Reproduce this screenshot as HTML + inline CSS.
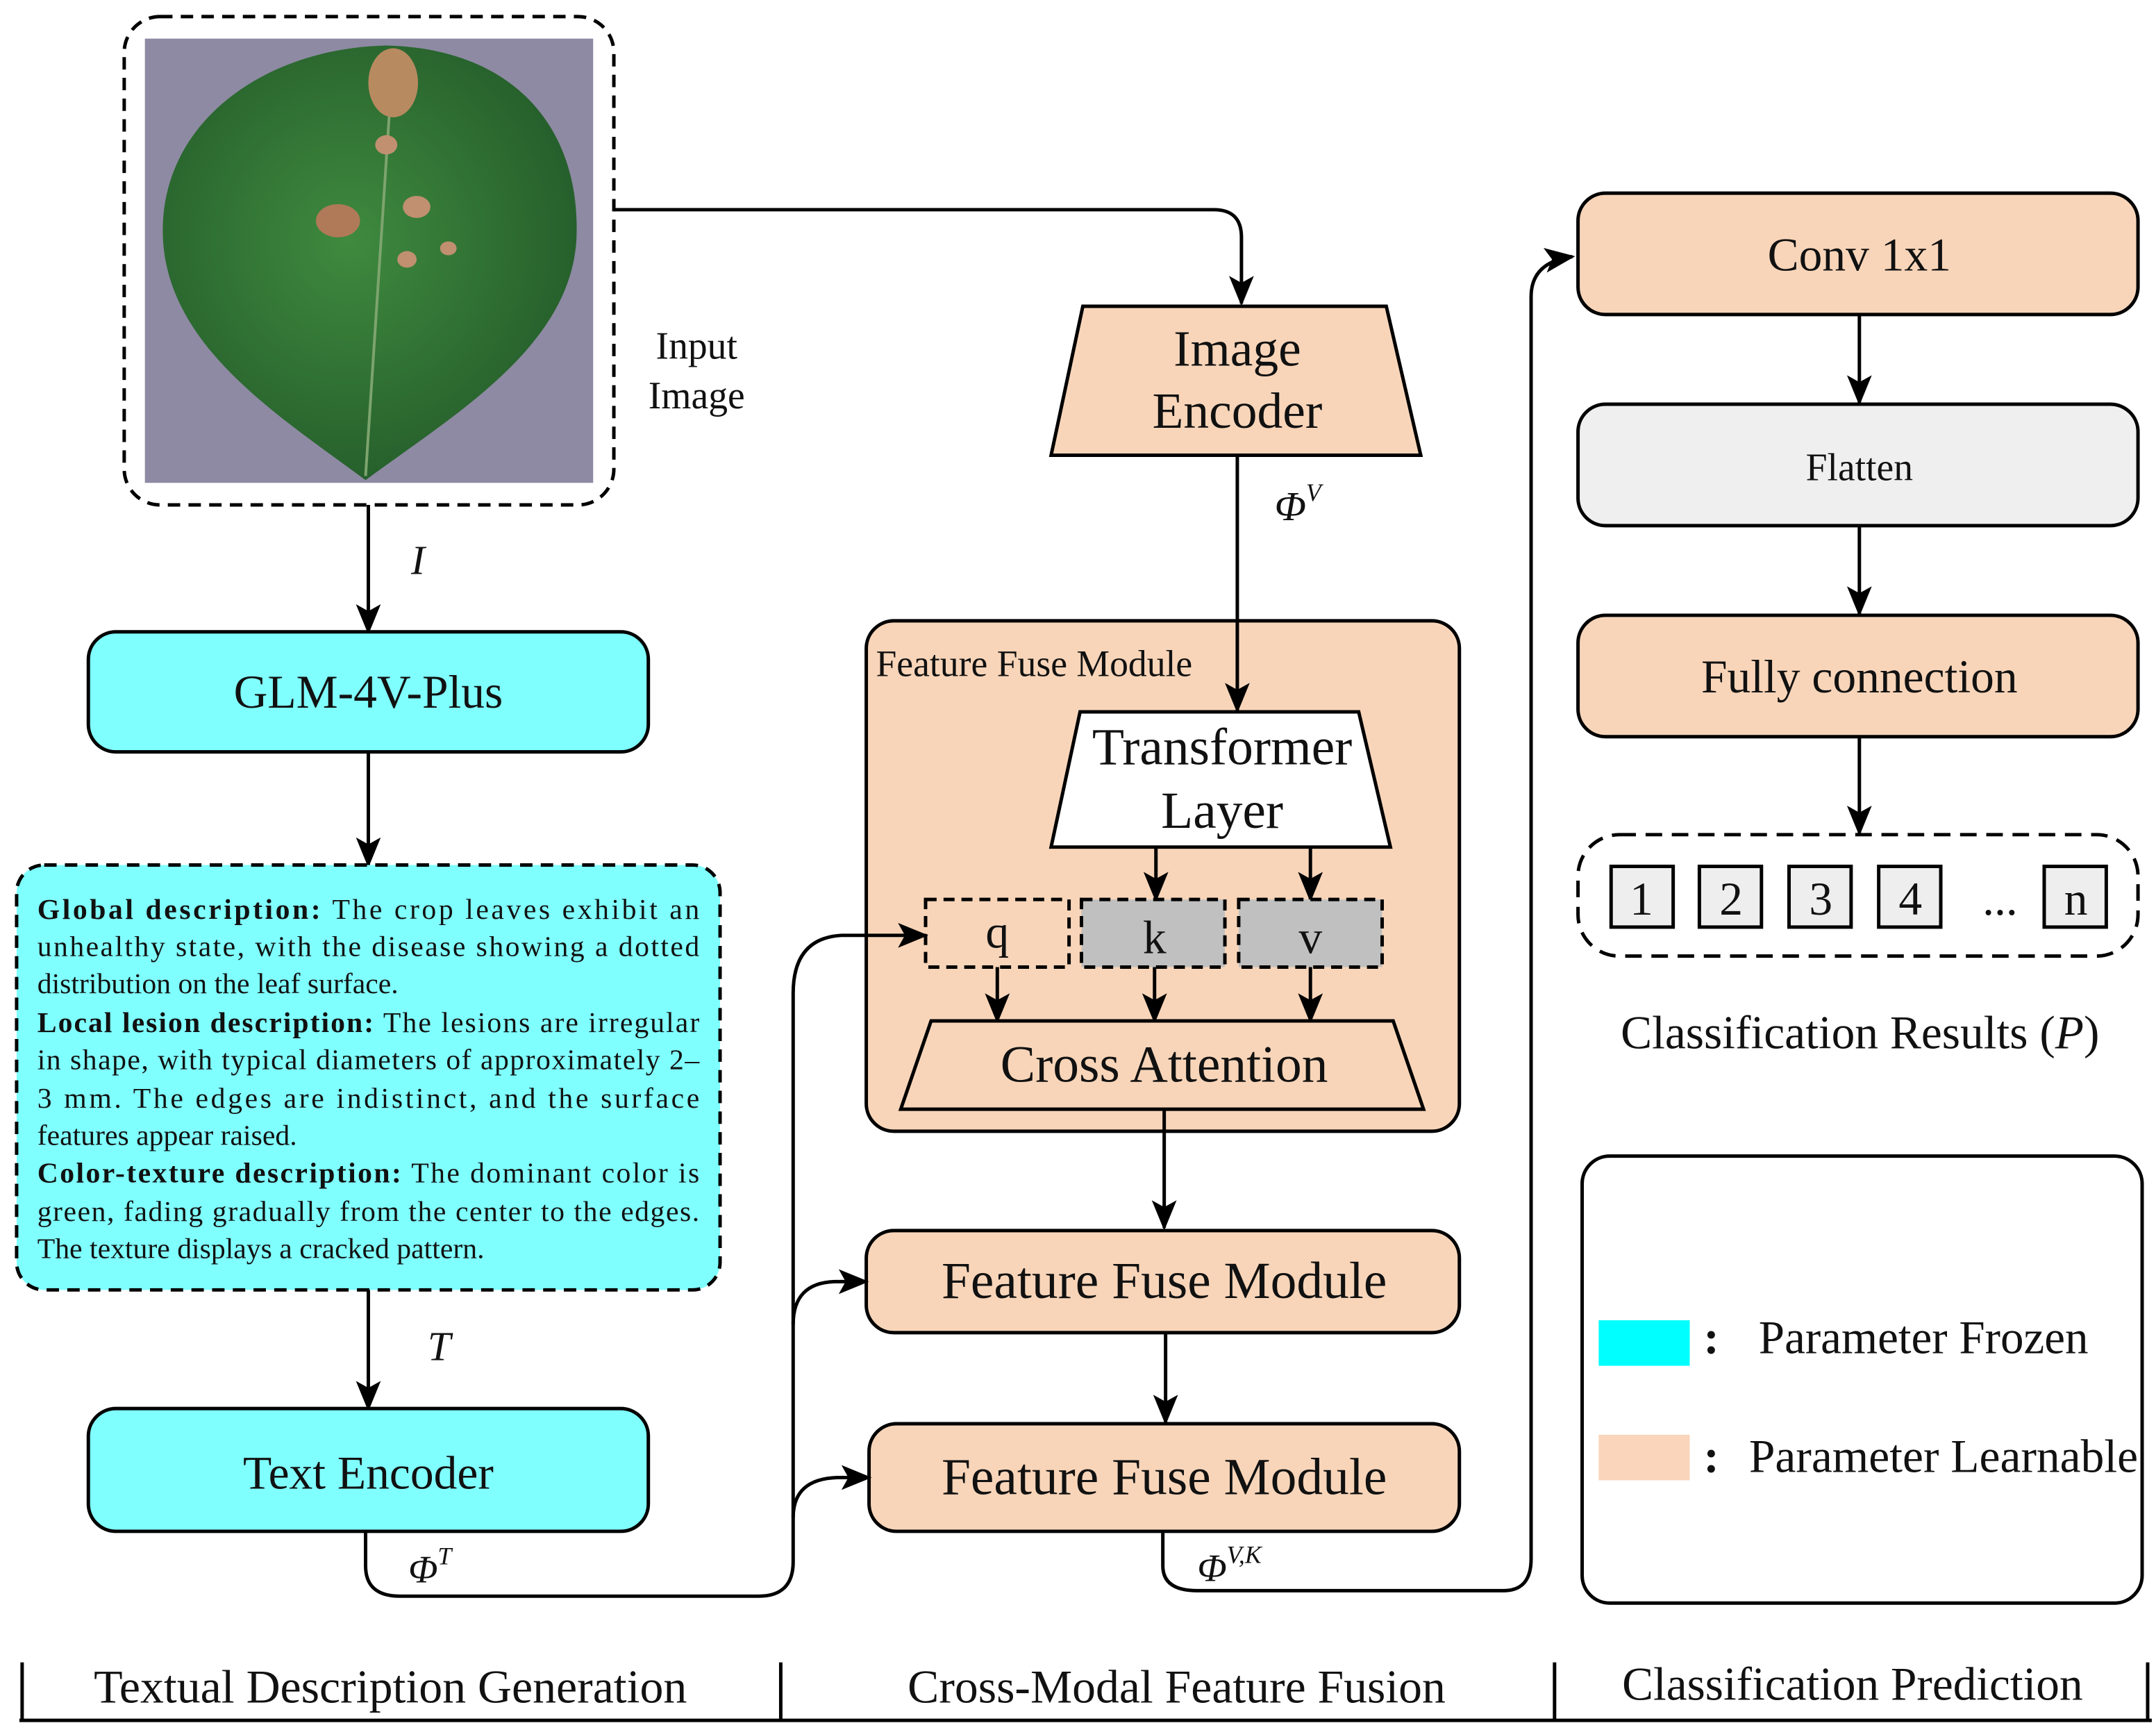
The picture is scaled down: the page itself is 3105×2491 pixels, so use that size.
<!DOCTYPE html>
<html><head><meta charset="utf-8"><style>
html,body{margin:0;padding:0;background:#fff}
svg{display:block}
text{font-family:"Liberation Serif",serif;fill:#111}
</style></head><body>
<svg width="3105" height="2491" viewBox="0 0 1563 1254" xmlns="http://www.w3.org/2000/svg">
<defs>
<marker id="b" markerWidth="22" markerHeight="22" refX="20" refY="11" orient="auto" markerUnits="userSpaceOnUse" viewBox="0 0 22 22">
<path d="M0,2 L22,11 L0,20 L5,11 Z" fill="#000"/></marker>
<radialGradient id="lg" cx="0.45" cy="0.45" r="0.6"><stop offset="0" stop-color="#3f8a3f"/><stop offset="1" stop-color="#245c2a"/></radialGradient>
</defs>
<g stroke="#000" stroke-width="2.5" fill="none">
<rect x="90" y="12" width="355" height="354" rx="26" stroke-dasharray="9,6"/>
<rect x="105" y="28" width="325" height="322" fill="#8e8aa3" stroke="none"/>
<path d="M265,348 C200,300 120,250 118,170 C116,90 190,35 280,33 C370,35 420,90 418,170 C416,250 330,300 265,348 Z" fill="url(#lg)" stroke="none"/>
<path d="M265,345 L285,40" stroke="#7da46e" stroke-width="2"/>
<ellipse cx="285" cy="60" rx="18" ry="25" fill="#b88a60" stroke="none"/>
<ellipse cx="245" cy="160" rx="16" ry="12" fill="#b07a58" stroke="none"/>
<ellipse cx="302" cy="150" rx="10" ry="8" fill="#c09070" stroke="none"/>
<ellipse cx="295" cy="188" rx="7" ry="6" fill="#c09070" stroke="none"/>
<ellipse cx="325" cy="180" rx="6" ry="5" fill="#c09070" stroke="none"/>
<ellipse cx="280" cy="105" rx="8" ry="7" fill="#c09070" stroke="none"/>
<path d="M445,152 L880,152 Q900,152 900,172 L900,220" marker-end="url(#b)"/>
<path d="M267,366 L267,458" marker-end="url(#b)"/>
<path d="M267,545 L267,627" marker-end="url(#b)"/>
<path d="M267,935 L267,1021" marker-end="url(#b)"/>
<rect x="64" y="458" width="406" height="87" rx="20" fill="#80ffff"/>
<rect x="12" y="627" width="510" height="308" rx="20" fill="#80ffff" stroke-dasharray="9,6"/>
<rect x="64" y="1021" width="406" height="89" rx="20" fill="#80ffff"/>
<path d="M785,222 L1005,222 L1030,330 L762,330 Z" fill="#f8d5b9"/>
<rect x="628" y="450" width="430" height="370" rx="20" fill="#f8d5b9"/>
<path d="M897,330 L897,515" marker-end="url(#b)"/>
<path d="M783,516 L985,516 L1008,614 L762,614 Z" fill="#fff"/>
<path d="M838,614 L838,652" marker-end="url(#b)"/>
<path d="M950,614 L950,652" marker-end="url(#b)"/>
<rect x="671" y="652" width="104" height="49" fill="#f8d5b9" stroke-dasharray="8,5"/>
<rect x="784" y="652" width="104" height="49" fill="#c0c0c0" stroke-dasharray="8,5"/>
<rect x="898" y="652" width="104" height="49" fill="#c0c0c0" stroke-dasharray="8,5"/>
<path d="M723,701 L723,740" marker-end="url(#b)"/>
<path d="M837,701 L837,740" marker-end="url(#b)"/>
<path d="M950,701 L950,740" marker-end="url(#b)"/>
<path d="M675,740 L1010,740 L1032,804 L653,804 Z" fill="#f8d5b9"/>
<path d="M844,804 L844,890" marker-end="url(#b)"/>
<rect x="628" y="892" width="430" height="74" rx="20" fill="#f8d5b9"/>
<path d="M845,966 L845,1031" marker-end="url(#b)"/>
<rect x="630" y="1032" width="428" height="78" rx="20" fill="#f8d5b9"/>
<path d="M265,1110 L265,1135 Q265,1157 290,1157 L550,1157 Q575,1157 575,1132 L575,720 Q575,680 610,678 L671,678" marker-end="url(#b)"/>
<path d="M575,960 Q575,930 605,929 L628,929" marker-end="url(#b)"/>
<path d="M575,1100 Q575,1072 607,1071 L630,1071" marker-end="url(#b)"/>
<path d="M843,1110 L843,1135 Q843,1153 868,1153 L1090,1153 Q1110,1153 1110,1130 L1110,215 Q1110,190 1140,186" marker-end="url(#b)"/>
<rect x="1144" y="140" width="406" height="88" rx="20" fill="#f8d5b9"/>
<path d="M1348,228 L1348,292" marker-end="url(#b)"/>
<rect x="1144" y="293" width="406" height="88" rx="20" fill="#efefef"/>
<path d="M1348,381 L1348,445" marker-end="url(#b)"/>
<rect x="1144" y="446" width="406" height="88" rx="20" fill="#f8d5b9"/>
<path d="M1348,534 L1348,604" marker-end="url(#b)"/>
<rect x="1144" y="605" width="406" height="88" rx="30" stroke-dasharray="12,7"/>
<rect x="1168" y="628" width="45" height="44" fill="#eee"/>
<rect x="1232" y="628" width="45" height="44" fill="#eee"/>
<rect x="1297" y="628" width="45" height="44" fill="#eee"/>
<rect x="1362" y="628" width="45" height="44" fill="#eee"/>
<rect x="1482" y="628" width="45" height="44" fill="#eee"/>
<rect x="1147" y="838" width="406" height="324" rx="20"/>
<rect x="1159" y="957" width="66" height="33" fill="#00ffff" stroke="none"/>
<rect x="1159" y="1040" width="66" height="33" fill="#fad5bb" stroke="none"/>
<path d="M14,1247 L1560,1247 M16,1205 L16,1247 M566,1205 L566,1247 M1127,1205 L1127,1247 M1557,1205 L1557,1247"/>
</g>
<g font-size="28">
<text x="505" y="260" text-anchor="middle">Input</text>
<text x="505" y="296" text-anchor="middle">Image</text>
</g>
<text x="298" y="416" font-size="30" font-style="italic">I</text>
<text x="310" y="986" font-size="30" font-style="italic">T</text>
<g font-size="34" text-anchor="middle">
<text x="897" y="265" font-size="37">Image</text>
<text x="897" y="310" font-size="37">Encoder</text>
<text x="267" y="513">GLM-4V-Plus</text>
<text x="267" y="1079">Text Encoder</text>
<text x="886" y="554" font-size="38">Transformer</text>
<text x="886" y="600" font-size="38">Layer</text>
<text x="844" y="784" font-size="38">Cross Attention</text>
<text x="844" y="941" font-size="38">Feature Fuse Module</text>
<text x="844" y="1083" font-size="38">Feature Fuse Module</text>
<text x="1348" y="196">Conv 1x1</text>
<text x="1348" y="502">Fully connection</text>
<text x="723" y="687">q</text>
<text x="837" y="691">k</text>
<text x="950" y="691">v</text>
<text x="1190" y="663">1</text>
<text x="1255" y="663">2</text>
<text x="1320" y="663">3</text>
<text x="1385" y="663">4</text>
<text x="1450" y="663">...</text>
<text x="1505" y="663">n</text>
</g>
<text x="1348" y="348" font-size="28" text-anchor="middle">Flatten</text>
<text x="635" y="490" font-size="27">Feature Fuse Module</text>
<text x="1175" y="760" font-size="34" textLength="347" lengthAdjust="spacingAndGlyphs">Classification Results (<tspan font-style="italic">P</tspan>)</text>
<text x="924" y="377" font-size="30" font-style="italic">Φ<tspan font-size="18" dy="-14">V</tspan></text>
<text x="296" y="1147" font-size="28" font-style="italic">Φ<tspan font-size="18" dy="-13">T</tspan></text>
<text x="868" y="1146" font-size="28" font-style="italic">Φ<tspan font-size="18" dy="-13">V,K</tspan></text>
<g font-size="34">
<text x="1235" y="981" font-weight="bold">:</text>
<text x="1275" y="981" textLength="239" lengthAdjust="spacingAndGlyphs">Parameter Frozen</text>
<text x="1235" y="1067" font-weight="bold">:</text>
<text x="1268" y="1067" textLength="282" lengthAdjust="spacingAndGlyphs">Parameter Learnable</text>
<text x="68" y="1234" textLength="430" lengthAdjust="spacingAndGlyphs">Textual Description Generation</text>
<text x="658" y="1234" textLength="390" lengthAdjust="spacingAndGlyphs">Cross-Modal Feature Fusion</text>
<text x="1176" y="1232" textLength="334" lengthAdjust="spacingAndGlyphs">Classification Prediction</text>
</g>
<g font-size="21">
<text x="27" y="666" textLength="480" lengthAdjust="spacing"><tspan font-weight="bold">Global description:</tspan> The crop leaves exhibit an</text>
<text x="27" y="693" textLength="480" lengthAdjust="spacing">unhealthy state, with the disease showing a dotted</text>
<text x="27" y="720">distribution on the leaf surface.</text>
<text x="27" y="748" textLength="480" lengthAdjust="spacing"><tspan font-weight="bold">Local lesion description:</tspan> The lesions are irregular</text>
<text x="27" y="775" textLength="480" lengthAdjust="spacing">in shape, with typical diameters of approximately 2–</text>
<text x="27" y="803" textLength="480" lengthAdjust="spacing">3 mm. The edges are indistinct, and the surface</text>
<text x="27" y="830">features appear raised.</text>
<text x="27" y="857" textLength="480" lengthAdjust="spacing"><tspan font-weight="bold">Color-texture description:</tspan> The dominant color is</text>
<text x="27" y="885" textLength="480" lengthAdjust="spacing">green, fading gradually from the center to the edges.</text>
<text x="27" y="912">The texture displays a cracked pattern.</text>
</g>
</svg>
</body></html>
